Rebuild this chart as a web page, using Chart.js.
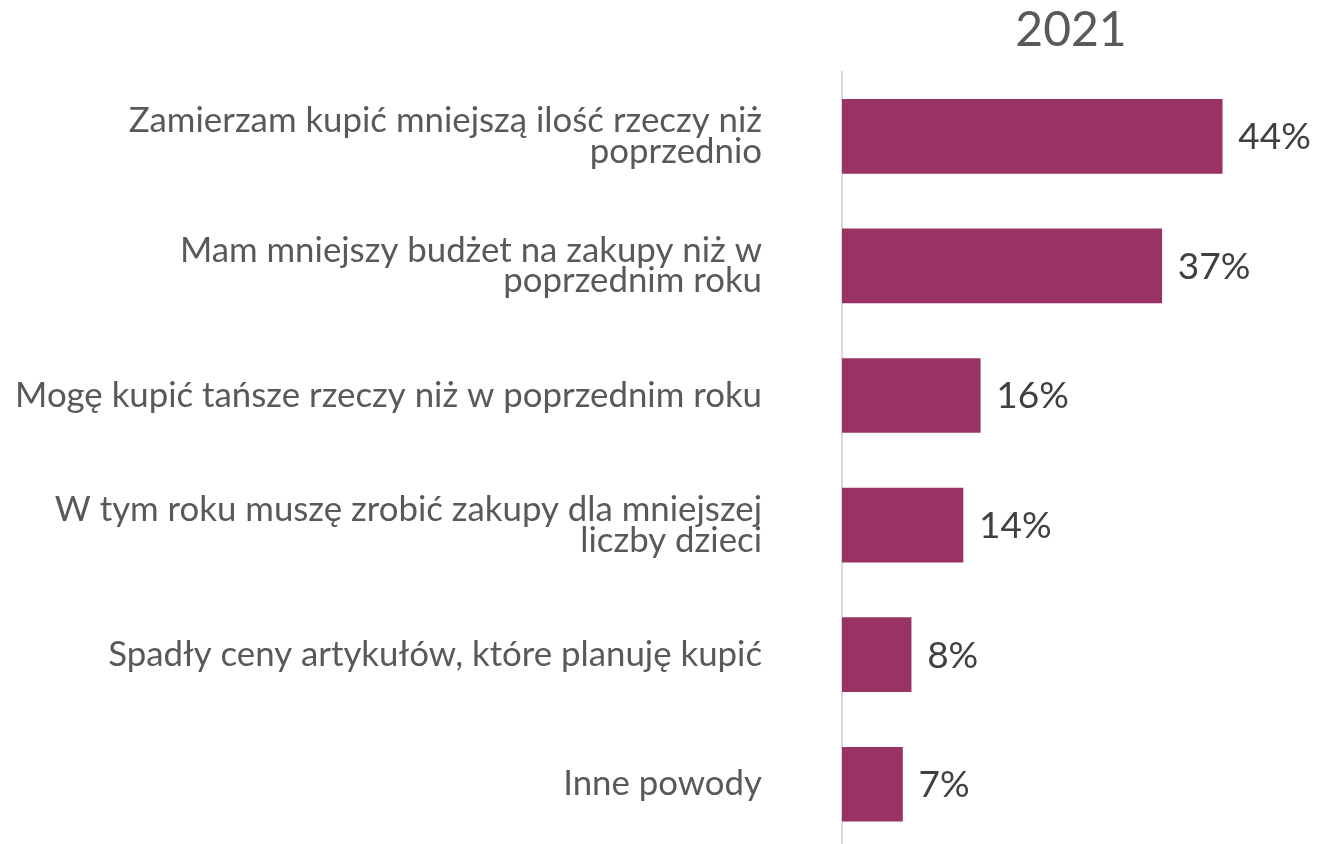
<!DOCTYPE html>
<html>
<head>
<meta charset="utf-8">
<script src="https://cdn.jsdelivr.net/npm/chart.js@4"></script>
<style>
  html, body { margin: 0; padding: 0; background: #fff; overflow: hidden; }
</style>
</head>
<body>
<canvas id="chart-powody" width="1317" height="849"></canvas>
<script>
(function () {
const title = '2021';
const categories = [
    ['Zamierzam kupić mniejszą ilość rzeczy niż', 'poprzednio'],
    ['Mam mniejszy budżet na zakupy niż w', 'poprzednim roku'],
    'Mogę kupić tańsze rzeczy niż w poprzednim roku',
    ['W tym roku muszę zrobić zakupy dla mniejszej', 'liczby dzieci'],
    'Spadły ceny artykułów, które planuję kupić',
    'Inne powody'
];
const values = [44, 37, 16, 14, 8, 7];

const ctx = document.getElementById('chart-powody').getContext('2d');

// value labels to the right of each bar
const valueLabels = {
    id: 'valueLabels',
    afterDatasetsDraw(chart) {
        const c = chart.ctx;
        const meta = chart.getDatasetMeta(0);
        c.save();
        c.font = '37px Lato';
        c.fillStyle = '#404040';
        c.textAlign = 'left';
        c.textBaseline = 'middle';
        meta.data.forEach((bar, i) => {
            c.fillText(values[i] + '%', bar.x + 16, bar.y + 1);
        });
        c.restore();
    }
};

new Chart(ctx, {
    type: 'bar',
    data: {
        labels: categories,
        datasets: [{
            data: values,
            backgroundColor: '#983363',
            borderWidth: 0,
            barThickness: 74
        }]
    },
    options: {
        indexAxis: 'y',
        responsive: false,
        animation: false,
        layout: { padding: { left: 0, right: 17, top: 0, bottom: 0 } },
        plugins: {
            legend: { display: false },
            tooltip: { enabled: false },
            title: {
                display: true,
                text: title,
                fullSize: false,
                color: '#595959',
                font: { family: 'Lato', size: 48, weight: 'normal' },
                padding: { top: 2, bottom: 12 }
            }
        },
        scales: {
            x: {
                display: false,
                min: 0,
                max: 53
            },
            y: {
                grid: { display: false, drawTicks: false },
                border: { display: true, color: '#d9d9d9', width: 2 },
                ticks: {
                    color: '#595959',
                    font: { family: 'Lato', size: 34.8, lineHeight: 0.88 },
                    padding: 80
                },
                afterFit(scale) {
                    scale.width = 842;
                    // tick padding would otherwise also shrink the plot vertically
                    scale.paddingTop = 0;
                    scale.paddingBottom = 0;
                }
            }
        }
    },
    plugins: [valueLabels]
});
})();
</script>
</body>
</html>
